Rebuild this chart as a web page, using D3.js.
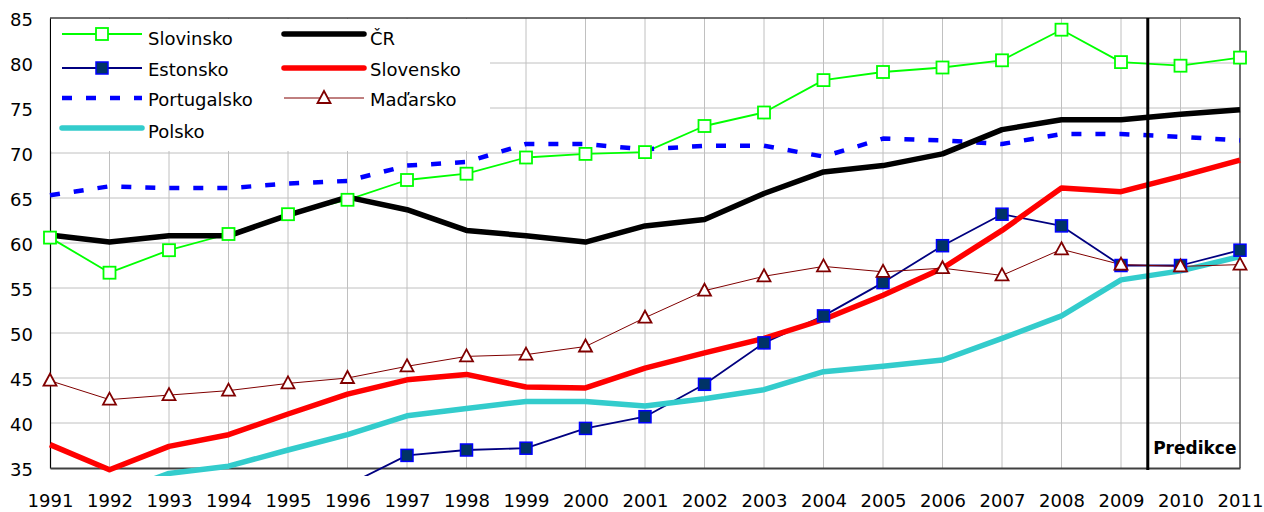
<!DOCTYPE html>
<html>
<head>
<meta charset="utf-8">
<script src="https://cdn.jsdelivr.net/npm/d3@7"></script>
<style>
  html, body { margin: 0; padding: 0; background: white; }
  #chart { width: 1264px; height: 512px; }
</style>
</head>
<body>
<div id="chart"></div>
<script>
const years = d3.range(1991, 2012);
const yTicks = [35, 40, 45, 50, 55, 60, 65, 70, 75, 80, 85];

const slovinsko   = [60.6, 56.7, 59.2, 61.0, 63.2, 64.8, 67.0, 67.7, 69.5, 69.9, 70.1, 73.0, 74.5, 78.1, 79.0, 79.5, 80.3, 83.7, 80.1, 79.7, 80.6];
const estonsko    = [null, null, null, null, null, 33.1, 36.4, 37.0, 37.2, 39.4, 40.7, 44.3, 48.9, 51.9, 55.6, 59.7, 63.2, 61.9, 57.5, 57.5, 59.2];
const portugalsko = [65.3, 66.3, 66.1, 66.1, 66.6, 66.9, 68.6, 69.0, 71.0, 71.0, 70.4, 70.8, 70.8, 69.6, 71.6, 71.4, 71.0, 72.1, 72.1, 71.8, 71.4];
const polsko      = [null, 32.0, 34.4, 35.2, 37.0, 38.7, 40.8, 41.6, 42.4, 42.4, 41.9, 42.7, 43.7, 45.7, 46.3, 47.0, 49.4, 51.9, 55.9, 56.9, 58.5];
const cr          = [60.9, 60.1, 60.8, 60.8, 63.1, 65.1, 63.7, 61.4, 60.8, 60.1, 61.9, 62.6, 65.5, 67.9, 68.6, 69.9, 72.6, 73.7, 73.7, 74.3, 74.8];
const slovensko   = [37.6, 34.8, 37.4, 38.7, 41.0, 43.2, 44.8, 45.4, 44.0, 43.9, 46.1, 47.8, 49.4, 51.5, 54.2, 57.2, 61.4, 66.1, 65.7, 67.4, 69.2];
const madarsko    = [44.7, 42.6, 43.1, 43.6, 44.4, 45.0, 46.3, 47.4, 47.6, 48.5, 51.7, 54.7, 56.3, 57.4, 56.8, 57.2, 56.4, 59.3, 57.6, 57.4, 57.6];

const predikceAt = 2009.45;

// series styles, drawn in this order (later on top)
const series = [
  {name: "Slovinsko",   values: slovinsko,   color: "#00ff00", width: 1.8, marker: "openSquare"},
  {name: "Estonsko",    values: estonsko,    color: "#000080", width: 1.8, marker: "filledSquare"},
  {name: "Portugalsko", values: portugalsko, color: "#0000ff", width: 4.5, dash: "10,14"},
  {name: "Polsko",      values: polsko,      color: "#33cccc", width: 5.5},
  {name: "ČR",          values: cr,          color: "#000000", width: 5.5},
  {name: "Slovensko",   values: slovensko,   color: "#ff0000", width: 5.5},
  {name: "Maďarsko",    values: madarsko,    color: "#800000", width: 1, marker: "triangle"}
];

const legendItems = [
  {s: 0, col: 0, row: 0}, {s: 1, col: 0, row: 1}, {s: 2, col: 0, row: 2}, {s: 3, col: 0, row: 3},
  {s: 4, col: 1, row: 0}, {s: 5, col: 1, row: 1}, {s: 6, col: 1, row: 2}
];

const width = 1264, height = 512;
const font = "DejaVu Sans";

const svg = d3.select("#chart")
  .append("svg")
  .attr("width", width)
  .attr("height", height);

const x = d3.scaleLinear().domain([1991, 2011]).range([50, 1240]);
const y = d3.scaleLinear().domain([35, 85]).range([468, 18]);

// grid
const grid = svg.append("g");
grid.selectAll("line.v")
  .data(years.slice(1))
  .join("line")
  .attr("x1", d => x(d)).attr("x2", d => x(d))
  .attr("y1", y(85)).attr("y2", y(35))
  .attr("stroke", "#c0c0c0").attr("stroke-width", 1);
grid.selectAll("line.h")
  .data(yTicks.slice(1))
  .join("line")
  .attr("x1", x(1991)).attr("x2", x(2011))
  .attr("y1", d => y(d)).attr("y2", d => y(d))
  .attr("stroke", "#c0c0c0").attr("stroke-width", 1);

// frame
svg.append("line").attr("x1", x(1991)).attr("x2", x(2011)).attr("y1", y(85)).attr("y2", y(85))
  .attr("stroke", "#000").attr("stroke-width", 1);
svg.append("line").attr("x1", x(2011)).attr("x2", x(2011)).attr("y1", y(85)).attr("y2", y(35))
  .attr("stroke", "#000").attr("stroke-width", 1);

// axes
const yAxis = svg.append("g")
  .attr("transform", `translate(${x(1991)},0)`)
  .call(d3.axisLeft(y).tickValues(yTicks).tickSize(0).tickPadding(17));
yAxis.select(".domain").attr("stroke", "#000").attr("stroke-width", 1.2);
yAxis.selectAll("text")
  .attr("font-family", font).attr("font-size", "18px").attr("fill", "#000").attr("dy", "0.42em");

const xAxis = svg.append("g")
  .attr("transform", `translate(0,${y(35)})`)
  .call(d3.axisBottom(x).tickValues(years).tickFormat(d3.format("d")).tickSize(0).tickPadding(26));
xAxis.select(".domain").attr("stroke", "#404040").attr("stroke-width", 2);
xAxis.selectAll("text")
  .attr("font-family", font).attr("font-size", "18px").attr("fill", "#000");

// clip for plotted series
svg.append("clipPath").attr("id", "plotClip")
  .append("rect").attr("x", 0).attr("y", 10).attr("width", width).attr("height", 466);

const plot = svg.append("g").attr("clip-path", "url(#plotClip)");

const line = d3.line()
  .defined(d => d.v != null)
  .x(d => x(d.year))
  .y(d => y(d.v));

function points(s) {
  return years.map((year, i) => ({year: year, v: s.values[i]}));
}

plot.selectAll("path.series")
  .data(series)
  .join("path")
  .attr("class", "series")
  .attr("d", s => line(points(s)))
  .attr("fill", "none")
  .attr("stroke", s => s.color)
  .attr("stroke-width", s => s.width)
  .attr("stroke-dasharray", s => s.dash || null)
  .attr("stroke-linejoin", "round");

function drawMarker(g, type, cx, cy) {
  if (type === "openSquare") {
    g.append("rect").attr("x", cx - 6).attr("y", cy - 6).attr("width", 12).attr("height", 12)
      .attr("fill", "#fff").attr("stroke", "#00ff00").attr("stroke-width", 1.8);
  } else if (type === "filledSquare") {
    g.append("rect").attr("x", cx - 6).attr("y", cy - 6).attr("width", 12).attr("height", 12)
      .attr("fill", "#003366").attr("stroke", "#0000ff").attr("stroke-width", 1.5);
  } else if (type === "triangle") {
    g.append("path")
      .attr("d", `M${cx},${cy - 7}L${cx + 6.5},${cy + 5}L${cx - 6.5},${cy + 5}Z`)
      .attr("fill", "#fff").attr("stroke", "#800000").attr("stroke-width", 1.8);
  }
}

series.filter(s => s.marker).forEach(s => {
  const g = plot.append("g");
  points(s).filter(d => d.v != null).forEach(d => drawMarker(g, s.marker, x(d.year), y(d.v)));
});

// prediction divider
svg.append("line")
  .attr("x1", x(predikceAt)).attr("x2", x(predikceAt))
  .attr("y1", y(85)).attr("y2", y(35) + 2)
  .attr("stroke", "#000").attr("stroke-width", 3);
svg.append("text")
  .attr("x", x(2010.24)).attr("y", 454)
  .attr("text-anchor", "middle")
  .attr("font-family", font).attr("font-size", "17px").attr("font-weight", "bold")
  .text("Predikce");

// legend
const legend = svg.append("g");
legend.append("rect")
  .attr("x", 51).attr("y", 19).attr("width", 439).attr("height", 132)
  .attr("fill", "#fff");

const colX = [62, 284];
const rowY = [34, 68, 98, 128];
const textBase = [45, 76, 106, 138];

legendItems.forEach(it => {
  const s = series[it.s];
  const x0 = colX[it.col], x1 = x0 + 80, ly = rowY[it.row];
  legend.append("line")
    .attr("x1", x0).attr("x2", x1).attr("y1", ly).attr("y2", ly)
    .attr("stroke", s.color)
    .attr("stroke-width", s.width)
    .attr("stroke-dasharray", s.dash || null)
    .attr("stroke-linecap", s.width > 5 ? "round" : "butt");
  if (s.marker) drawMarker(legend, s.marker, (x0 + x1) / 2, ly);
  legend.append("text")
    .attr("x", x1 + 6).attr("y", textBase[it.row])
    .attr("font-family", font).attr("font-size", "18px").attr("fill", "#000")
    .text(s.name);
});
</script>
</body>
</html>
